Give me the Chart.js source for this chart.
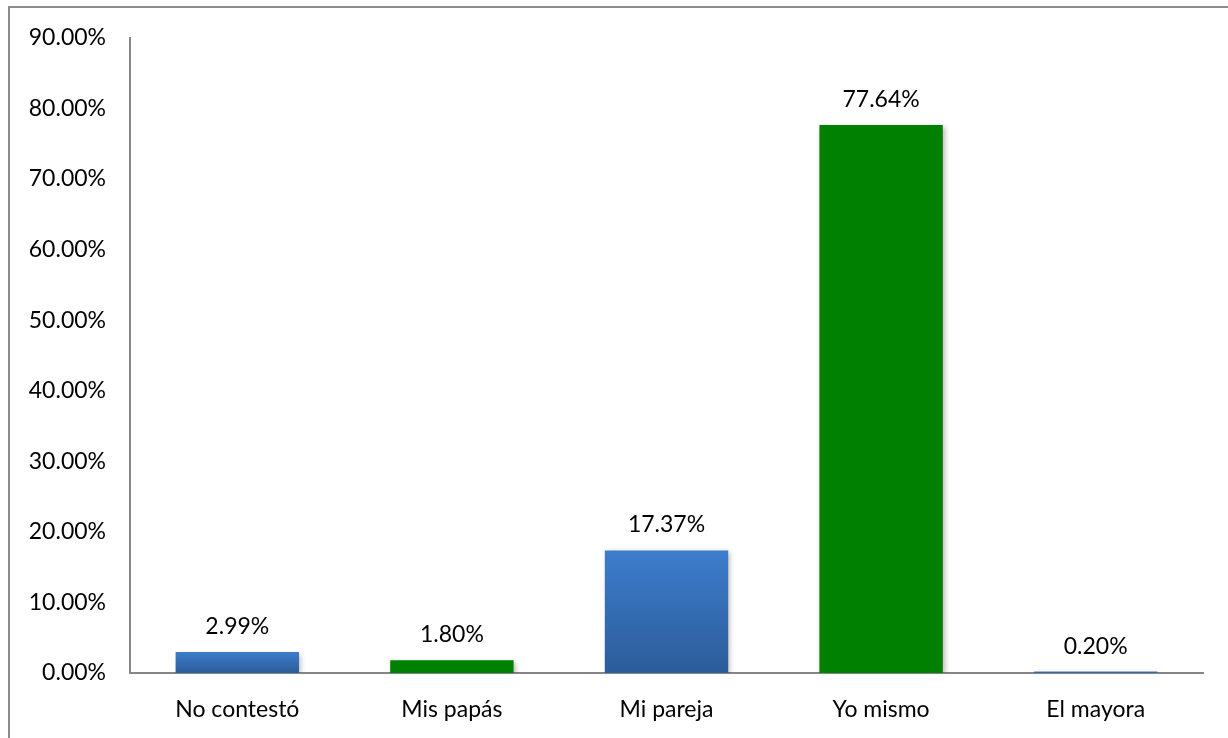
<!DOCTYPE html>
<html>
<head>
<meta charset="utf-8">
<script src="https://cdn.jsdelivr.net/npm/chart.js@4"></script>
<style>
  html, body { margin: 0; padding: 0; background: #fff; }
  #wrap { position: relative; width: 1228px; height: 738px; }
</style>
</head>
<body>
<div id="wrap"><canvas id="chart" width="1228" height="738"></canvas></div>
<script>
// data
const categories = ["No contestó", "Mis papás", "Mi pareja", "Yo mismo", "El mayora"];
const values = [2.99, 1.80, 17.37, 77.64, 0.20];
const barKinds = ["blue", "green", "blue", "green", "blue"];
const yMax = 90;
const yStep = 10;

const FONT = "Lato, 'Open Sans', sans-serif";

function barFill(context) {
  const chart = context.chart;
  const i = context.dataIndex;
  if (barKinds[i] === "green") return "#008000";
  const y = chart.scales.y;
  if (!chart.chartArea || !y) return "#3a74bd";
  const top = y.getPixelForValue(values[i]);
  const bottom = y.getPixelForValue(0);
  const g = chart.ctx.createLinearGradient(0, top, 0, Math.max(bottom, top + 1));
  g.addColorStop(0, "#3d7dcc");
  g.addColorStop(1, "#2c5c99");
  return g;
}

// outer frame + bar shadows + value labels
const extras = {
  id: "extras",
  beforeDraw(chart) {
    const ctx = chart.ctx;
    ctx.save();
    ctx.strokeStyle = "#8c8c8c";
    ctx.lineWidth = 2;
    ctx.beginPath();
    ctx.moveTo(9, 740);
    ctx.lineTo(9, 7);
    ctx.lineTo(1230, 7);
    ctx.stroke();
    ctx.restore();
  },
  beforeDatasetsDraw(chart) {
    const ctx = chart.ctx;
    ctx.save();
    ctx.shadowColor = "rgba(0,0,0,0.28)";
    ctx.shadowBlur = 5;
    ctx.shadowOffsetX = 2;
    ctx.shadowOffsetY = 2;
  },
  afterDatasetsDraw(chart) {
    const ctx = chart.ctx;
    ctx.restore();
    const meta = chart.getDatasetMeta(0);
    ctx.save();
    ctx.fillStyle = "#000";
    ctx.font = "23px " + FONT;
    ctx.textAlign = "center";
    ctx.textBaseline = "bottom";
    meta.data.forEach((bar, i) => {
      ctx.fillText(values[i].toFixed(2) + "%", bar.x, bar.y - 14);
    });
    ctx.restore();
  }
};

new Chart(document.getElementById("chart"), {
  type: "bar",
  data: {
    labels: categories,
    datasets: [{
      data: values,
      backgroundColor: barFill,
      borderWidth: 0,
      categoryPercentage: 1,
      barPercentage: 0.575
    }]
  },
  options: {
    responsive: false,
    animation: false,
    layout: { padding: { left: 0, right: 25, top: 36, bottom: 0 } },
    plugins: {
      legend: { display: false },
      tooltip: { enabled: false }
    },
    scales: {
      x: {
        grid: { display: false, drawTicks: false },
        border: { display: true, color: "#868686", width: 2 },
        ticks: { color: "#000", font: { family: FONT, size: 23 }, padding: 23 },
        afterFit(scale) { scale.height = 65; }
      },
      y: {
        min: 0,
        max: yMax,
        grid: { display: false, drawTicks: false },
        border: { display: true, color: "#868686", width: 2 },
        ticks: {
          stepSize: yStep,
          color: "#000",
          font: { family: FONT, size: 23 },
          padding: 24,
          callback: v => v.toFixed(2) + "%"
        },
        afterFit(scale) { scale.width = 130; }
      }
    }
  },
  plugins: [extras]
});
</script>
</body>
</html>
